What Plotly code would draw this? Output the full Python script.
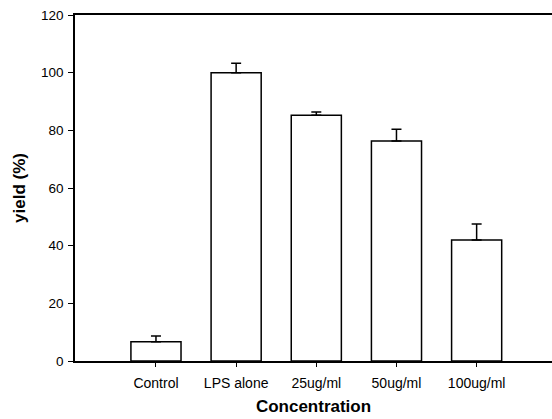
import plotly.graph_objects as go

categories = ["Control", "LPS alone", "25ug/ml", "50ug/ml", "100ug/ml"]
yield_pct = [6.7, 100.0, 85.2, 76.3, 42.0]
error_up = [2.0, 3.3, 1.2, 4.1, 5.5]
y_ticks = [0, 20, 40, 60, 80, 100, 120]

fig = go.Figure()
fig.add_trace(go.Bar(
    x=list(range(len(categories))),
    y=yield_pct,
    width=0.625,
    marker=dict(color="white", line=dict(color="black", width=1.5)),
    error_y=dict(type="data", array=error_up, arrayminus=[0]*len(error_up),
                 symmetric=False, color="black", thickness=1.5, width=5),
))

fig.update_layout(
    width=552, height=419,
    margin=dict(l=75, r=0, t=15, b=58, autoexpand=False),
    paper_bgcolor="white", plot_bgcolor="white",
    showlegend=False,
    font=dict(family="Arial, Liberation Sans, sans-serif", size=14, color="black"),
    xaxis=dict(
        range=[-1.01, 4.94],
        tickmode="array", tickvals=list(range(len(categories))), ticktext=categories,
        tickfont=dict(size=14),
        showline=True, linecolor="black", linewidth=1.5, mirror=True,
        ticks="outside", ticklen=4, tickwidth=1, tickcolor="black",
        ticklabelstandoff=4,
        showgrid=False, zeroline=False, automargin=False,
        title=dict(text="<b>Concentration</b>", font=dict(size=17), standoff=11),
    ),
    yaxis=dict(
        range=[0, 120],
        tickmode="array", tickvals=y_ticks, tickfont=dict(size=13.5),
        showline=True, linecolor="black", linewidth=1.5,
        ticks="outside", ticklen=5, tickwidth=1, tickcolor="black",
        ticklabelstandoff=2,
        showgrid=False, zeroline=False, automargin=False,
        title=dict(text="<b>yield (%)</b>", font=dict(size=17), standoff=11),
    ),
)

fig.write_html(
    "out.html",
    config={"displayModeBar": False},
    post_script="document.body.style.margin='0';document.body.style.overflow='hidden';",
)
